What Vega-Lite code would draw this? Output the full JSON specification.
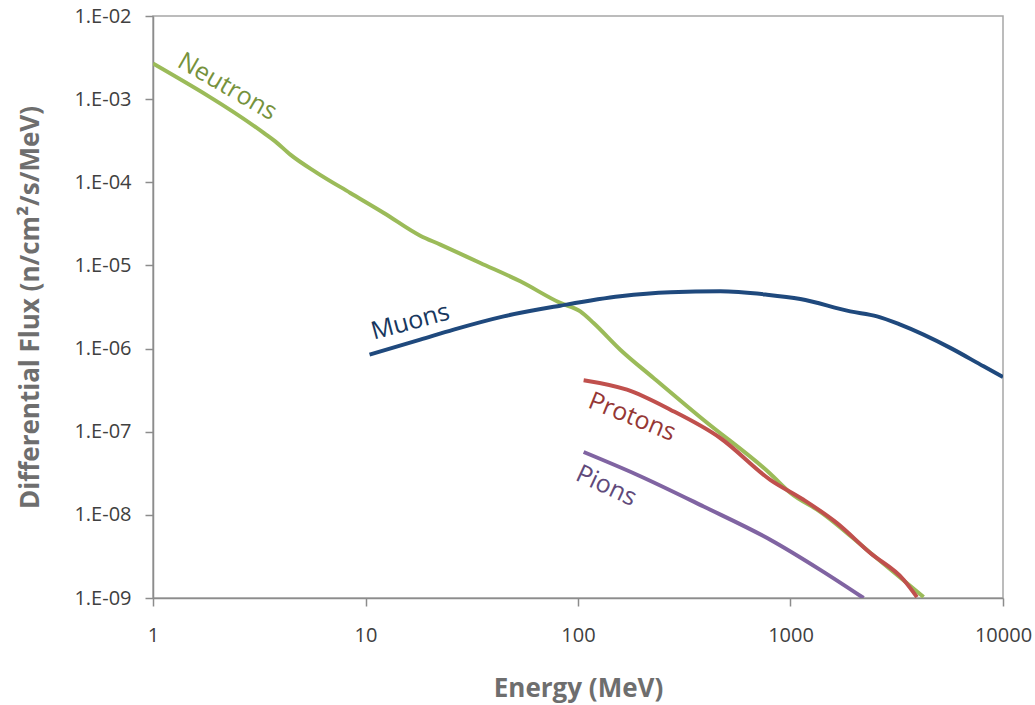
{
  "$schema": "https://vega.github.io/schema/vega-lite/v6.json",
  "width": 850,
  "height": 582,
  "autosize": {"type": "none"},
  "padding": {"left": 153, "top": 16, "right": 32, "bottom": 107},
  "background": "white",
  "config": {
    "font": "Open Sans",
    "view": {"stroke": "#A6A6A6", "strokeWidth": 1.5},
    "axis": {
      "grid": false,
      "labelFlush": false,
      "labelOverlap": false,
      "domainColor": "#8C8C8C",
      "domainWidth": 1.5,
      "tickColor": "#8C8C8C",
      "tickWidth": 1.5,
      "tickSize": 8,
      "labelFont": "Open Sans",
      "labelFontSize": 20,
      "labelColor": "#404040",
      "titleFont": "Open Sans",
      "titleFontSize": 26,
      "titleFontWeight": "bold",
      "titleColor": "#6E6E6E"
    }
  },
  "datasets": {
    "curves": [
      {"series": "Neutrons", "energy": 1, "flux": 2.68e-3},
      {"series": "Neutrons", "energy": 3.32, "flux": 3.93e-4},
      {"series": "Neutrons", "energy": 3.76, "flux": 3.11e-4},
      {"series": "Neutrons", "energy": 4.43, "flux": 2.15e-4},
      {"series": "Neutrons", "energy": 5.91, "flux": 1.30e-4},
      {"series": "Neutrons", "energy": 8.48, "flux": 7.45e-5},
      {"series": "Neutrons", "energy": 12.2, "flux": 4.28e-5},
      {"series": "Neutrons", "energy": 18.1, "flux": 2.28e-5},
      {"series": "Neutrons", "energy": 22.5, "flux": 1.78e-5},
      {"series": "Neutrons", "energy": 34.7, "flux": 1.07e-5},
      {"series": "Neutrons", "energy": 53.5, "flux": 6.44e-6},
      {"series": "Neutrons", "energy": 82.5, "flux": 3.54e-6},
      {"series": "Neutrons", "energy": 102.5, "flux": 2.80e-6},
      {"series": "Neutrons", "energy": 118.4, "flux": 2.03e-6},
      {"series": "Neutrons", "energy": 158.1, "flux": 9.70e-7},
      {"series": "Neutrons", "energy": 226, "flux": 4.46e-7},
      {"series": "Neutrons", "energy": 389, "flux": 1.39e-7},
      {"series": "Neutrons", "energy": 803, "flux": 3.12e-8},
      {"series": "Neutrons", "energy": 1000, "flux": 1.83e-8},
      {"series": "Neutrons", "energy": 1381, "flux": 1.09e-8},
      {"series": "Neutrons", "energy": 2374, "flux": 3.50e-9},
      {"series": "Neutrons", "energy": 4230, "flux": 1.03e-9},
      {"series": "Muons", "energy": 10.45, "flux": 8.45e-7},
      {"series": "Muons", "energy": 18.1, "flux": 1.28e-6},
      {"series": "Muons", "energy": 26.0, "flux": 1.69e-6},
      {"series": "Muons", "energy": 44.7, "flux": 2.44e-6},
      {"series": "Muons", "energy": 82.5, "flux": 3.28e-6},
      {"series": "Muons", "energy": 158, "flux": 4.25e-6},
      {"series": "Muons", "energy": 272, "flux": 4.75e-6},
      {"series": "Muons", "energy": 467, "flux": 4.88e-6},
      {"series": "Muons", "energy": 775, "flux": 4.45e-6},
      {"series": "Muons", "energy": 1112, "flux": 3.95e-6},
      {"series": "Muons", "energy": 1911, "flux": 2.80e-6},
      {"series": "Muons", "energy": 2554, "flux": 2.44e-6},
      {"series": "Muons", "energy": 3287, "flux": 1.94e-6},
      {"series": "Muons", "energy": 5649, "flux": 1.02e-6},
      {"series": "Muons", "energy": 8102, "flux": 6.11e-7},
      {"series": "Muons", "energy": 10000, "flux": 4.55e-7},
      {"series": "Protons", "energy": 106.3, "flux": 4.17e-7},
      {"series": "Protons", "energy": 170, "flux": 3.20e-7},
      {"series": "Protons", "energy": 272, "flux": 1.84e-7},
      {"series": "Protons", "energy": 467, "flux": 8.4e-8},
      {"series": "Protons", "energy": 803, "flux": 2.64e-8},
      {"series": "Protons", "energy": 1152, "flux": 1.52e-8},
      {"series": "Protons", "energy": 1655, "flux": 7.96e-9},
      {"series": "Protons", "energy": 2374, "flux": 3.47e-9},
      {"series": "Protons", "energy": 3406, "flux": 1.66e-9},
      {"series": "Protons", "energy": 3938, "flux": 1.025e-9},
      {"series": "Pions", "energy": 106.3, "flux": 5.70e-8},
      {"series": "Pions", "energy": 189.5, "flux": 3.04e-8},
      {"series": "Pions", "energy": 390, "flux": 1.26e-8},
      {"series": "Pions", "energy": 803, "flux": 5.02e-9},
      {"series": "Pions", "energy": 1381, "flux": 2.18e-9},
      {"series": "Pions", "energy": 2208, "flux": 1.0e-9}
    ],
    "labels": [
      {"series": "Neutrons", "energy": 2.24, "flux": 1.42e-3},
      {"series": "Muons", "energy": 16.25, "flux": 2.11e-6},
      {"series": "Protons", "energy": 180, "flux": 1.515e-7},
      {"series": "Pions", "energy": 136, "flux": 2.24e-8}
    ]
  },
  "layer": [
    {
      "data": {"name": "curves"},
      "mark": {"type": "line", "strokeWidth": 4, "interpolate": "monotone", "clip": true},
      "encoding": {
        "x": {
          "field": "energy", "type": "quantitative",
          "scale": {"type": "log", "domain": [1, 10000], "nice": false},
          "axis": {"values": [1, 10, 100, 1000, 10000], "format": "d", "title": "Energy (MeV)", "labelPadding": 19, "titlePadding": 30}
        },
        "y": {
          "field": "flux", "type": "quantitative",
          "scale": {"type": "log", "domain": [1e-9, 1e-2], "nice": false},
          "axis": {
            "values": [1e-2, 1e-3, 1e-4, 1e-5, 1e-6, 1e-7, 1e-8, 1e-9],
            "labelExpr": "'1.E-0' + round(-log(datum.value)/LN10)",
            "title": "Differential Flux (n/cm²/s/MeV)",
            "labelPadding": 14,
            "titlePadding": 30
          }
        },
        "color": {
          "field": "series", "type": "nominal",
          "scale": {"domain": ["Neutrons", "Muons", "Protons", "Pions"], "range": ["#9BBB59", "#1F497D", "#C0504D", "#8064A2"]},
          "legend": null
        },
        "detail": {"field": "series"}
      }
    },
    {
      "data": {"name": "labels"},
      "transform": [{"filter": "datum.series === 'Neutrons'"}],
      "mark": {"type": "text", "angle": 30, "fontSize": 25, "color": "#76923C", "font": "Open Sans"},
      "encoding": {
        "x": {"field": "energy", "type": "quantitative"},
        "y": {"field": "flux", "type": "quantitative"},
        "text": {"field": "series"}
      }
    },
    {
      "data": {"name": "labels"},
      "transform": [{"filter": "datum.series === 'Muons'"}],
      "mark": {"type": "text", "angle": -15, "fontSize": 25, "color": "#17375E", "font": "Open Sans"},
      "encoding": {
        "x": {"field": "energy", "type": "quantitative"},
        "y": {"field": "flux", "type": "quantitative"},
        "text": {"field": "series"}
      }
    },
    {
      "data": {"name": "labels"},
      "transform": [{"filter": "datum.series === 'Protons'"}],
      "mark": {"type": "text", "angle": 22, "fontSize": 25, "color": "#953735", "font": "Open Sans"},
      "encoding": {
        "x": {"field": "energy", "type": "quantitative"},
        "y": {"field": "flux", "type": "quantitative"},
        "text": {"field": "series"}
      }
    },
    {
      "data": {"name": "labels"},
      "transform": [{"filter": "datum.series === 'Pions'"}],
      "mark": {"type": "text", "angle": 25, "fontSize": 25, "color": "#604A7B", "font": "Open Sans"},
      "encoding": {
        "x": {"field": "energy", "type": "quantitative"},
        "y": {"field": "flux", "type": "quantitative"},
        "text": {"field": "series"}
      }
    }
  ]
}
